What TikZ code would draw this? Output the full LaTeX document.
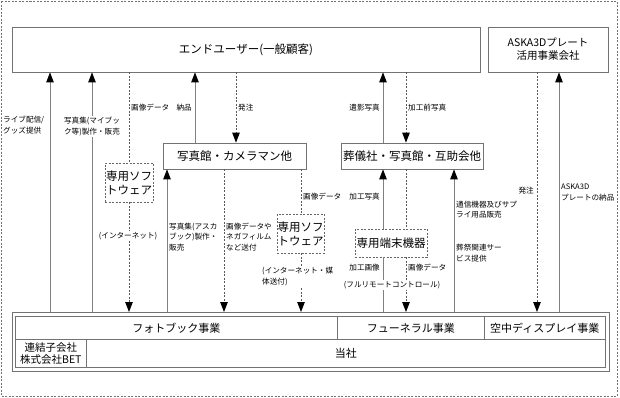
\documentclass[tikz,border=0pt]{standalone}
\usepackage{fontspec}
\setmainfont{Noto Sans CJK JP}
\usetikzlibrary{arrows.meta}
\tikzset{
 box/.style={draw=black!55, line width=0.8pt, inner sep=0pt, font=\fontsize{11.5}{14}\selectfont, align=center},
 dbox/.style={box, draw=black!60, dash pattern=on 2pt off 1.5pt},
 cell/.style={draw=black!55, line width=0.7pt, inner sep=0pt, font=\fontsize{11}{13}\selectfont, align=center, anchor=north west},
 lbl/.style={font=\fontsize{7.6}{10.6}\selectfont, inner sep=1pt, align=left},
 wlbl/.style={lbl, fill=white, align=center},
 sline/.style={draw=black!50, line width=0.9pt},
 dline/.style={draw=black!65, line width=0.9pt, dash pattern=on 2pt off 1.5pt},
 tip/.style={-{Triangle[width=7.5pt,length=10pt,color=black]}},
}
\begin{document}
\begin{tikzpicture}[x=1pt,y=-1pt]
\fill[white] (0,0) rectangle (620,397);
\useasboundingbox (0,0) rectangle (620,397);
\draw[dline, draw=black!55, line width=0.7pt] (1,1) rectangle (617,396);

% boxes
\node[box, minimum width=468pt, minimum height=45pt] (eu) at (246,49.5) {エンドユーザー(一般顧客)};
\node[box, minimum width=120pt, minimum height=45pt, font=\fontsize{10.5}{13}\selectfont] (aska) at (548,49.5) {ASKA3Dプレート\\活用事業会社};
\node[box, minimum width=143pt, minimum height=26pt] (shashin) at (234.5,156) {写真館・カメラマン他};
\node[box, minimum width=142pt, minimum height=26pt] (sougi) at (412,156) {葬儀社・写真館・互助会他};
\node[dbox, minimum width=48pt, minimum height=39pt] (softa) at (129,182.5) {専用ソフ\\トウェア};
\node[dbox, minimum width=47pt, minimum height=39pt] (softb) at (300.5,233.5) {専用ソフ\\トウェア};
\node[dbox, minimum width=72pt, minimum height=28pt] (term) at (391,243) {専用端末機器};

% table
\node[cell, minimum width=322pt, minimum height=23pt] (photo) at (15,316) {フォトブック事業};
\node[cell, minimum width=147pt, minimum height=23pt] (fun) at (337,316) {フューネラル事業};
\node[cell, minimum width=121pt, minimum height=23pt] (air) at (484,316) {空中ディスプレイ事業};
\node[cell, minimum width=71pt, minimum height=28pt, font=\fontsize{10.5}{12}\selectfont] (bet) at (15,339) {連結子会社\\株式会社BET};
\node[cell, minimum width=519pt, minimum height=28pt] (tosha) at (86,339) {当社};
\node[draw=black!55, line width=0.8pt, minimum width=597pt, minimum height=59pt, inner sep=0pt, anchor=north west] (tbl) at (12,312) {};

% x positions
\coordinate (xa) at (50,0);
\coordinate (xb) at (92,0);
\coordinate (xc) at (129,0);
\coordinate (xd) at (167,0);
\coordinate (xe) at (195,0);
\coordinate (xf) at (224,0);
\coordinate (xg) at (236,0);
\coordinate (xh) at (301,0);
\coordinate (xi) at (383,0);
\coordinate (xj) at (406,0);
\coordinate (xk) at (454,0);
\coordinate (xl) at (537,0);
\coordinate (xm) at (559,0);

% connectors
\draw[sline,tip] (tbl.north -| xa) -- (eu.south -| xa);
\draw[sline,tip] (tbl.north -| xb) -- (eu.south -| xb);
\draw[dline] (eu.south -| xc) -- (softa.north -| xc);
\draw[dline,tip] (softa.south -| xc) -- (tbl.north -| xc);
\draw[sline,tip] (shashin.north -| xe) -- (eu.south -| xe);
\draw[dline,tip] (eu.south -| xg) -- (shashin.north -| xg);
\draw[sline,tip] (tbl.north -| xd) -- (shashin.south -| xd);
\draw[dline,tip] (shashin.south -| xf) -- (tbl.north -| xf);
\draw[dline] (shashin.south -| xh) -- (softb.north -| xh);
\draw[dline,tip] (softb.south -| xh) -- (tbl.north -| xh);
\draw[sline,tip] (term.north -| xi) -- (sougi.south -| xi);
\draw[sline] (tbl.north -| xi) -- (term.south -| xi);
\draw[dline] (sougi.south -| xj) -- (term.north -| xj);
\draw[dline,tip] (term.south -| xj) -- (tbl.north -| xj);
\draw[sline,tip] (sougi.north -| xi) -- (eu.south -| xi);
\draw[dline,tip] (eu.south -| xj) -- (sougi.north -| xj);
\draw[sline,tip] (tbl.north -| xk) -- (sougi.south -| xk);
\draw[dline,tip] (aska.south -| xl) -- (tbl.north -| xl);
\draw[sline,tip] (tbl.north -| xm) -- (aska.south -| xm);

% labels
\node[lbl, anchor=west] (l1) at (2,125) {ライブ配信/\\グッズ提供};
\node[wlbl] (l2) at (92,126.5) {写真集(マイブッ\\ク等)製作・販売};
\node[lbl, anchor=west] (l3) at (130,108) {画像データ};
\node[lbl, anchor=east] (l4) at (193,108) {納品};
\node[lbl, anchor=west] (l5) at (237,108) {発注};
\node[lbl, anchor=east] (l6) at (381,108) {遺影写真};
\node[lbl, anchor=west] (l7) at (407,108) {加工前写真};
\node[wlbl] (l8) at (128,236) {(インターネット)};
\node[lbl, anchor=west] (l9) at (168,237) {写真集(アスカ\\ブック)製作・\\販売};
\node[lbl, anchor=west] (l10) at (225,237) {画像データや\\ネガフィルム\\など送付};
\node[lbl, anchor=west] (l11) at (302,197) {画像データ};
\node[lbl, anchor=west, fill=white] (l12) at (261,276.5) {(インターネット・媒\\体送付)};
\node[lbl, anchor=east] (l13) at (381,197) {加工写真};
\node[lbl, anchor=east] (l14) at (381,268) {加工画像};
\node[lbl, anchor=west] (l15) at (407,268) {画像データ};
\node[wlbl] (l16) at (392,285) {(フルリモートコントロール)};
\node[lbl, anchor=west] (l17) at (455,209.5) {通信機器及びサプ\\ライ用品販売};
\node[lbl, anchor=west] (l18) at (455,253) {葬祭関連サー\\ビス提供};
\node[lbl, anchor=east] (l19) at (535,191) {発注};
\node[lbl, anchor=west] (l20) at (560,192.5) {ASKA3D\\プレートの納品};
\end{tikzpicture}
\end{document}
